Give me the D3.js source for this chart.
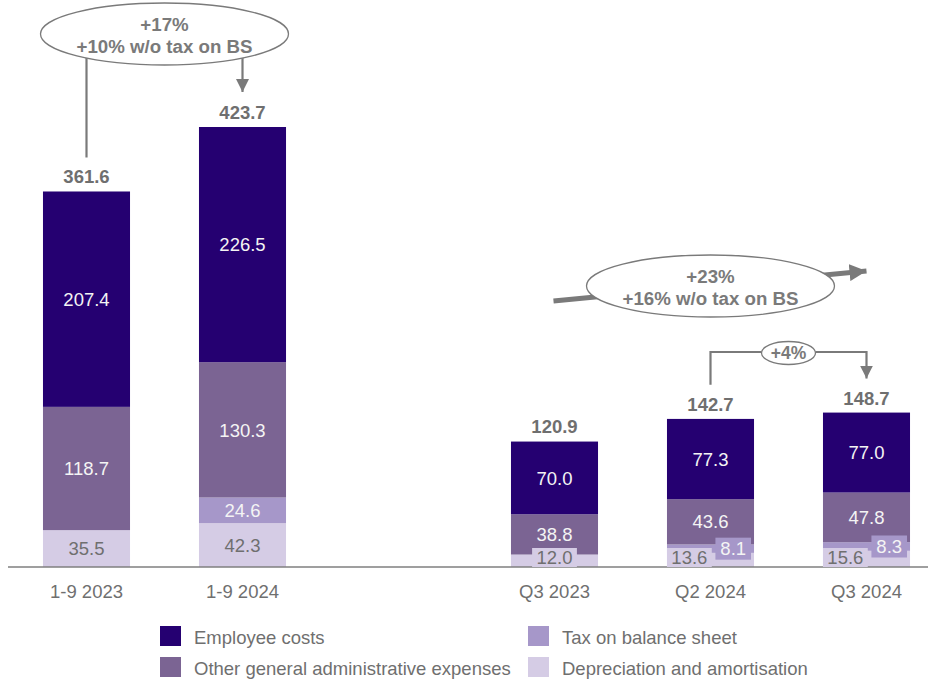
<!DOCTYPE html>
<html>
<head>
<meta charset="utf-8">
<script src="https://cdn.jsdelivr.net/npm/d3@7"></script>
<style>
  html, body { margin: 0; padding: 0; background: #ffffff; }
  svg { display: block; font-family: "Liberation Sans", Arial, sans-serif; }
</style>
</head>
<body>
<svg id="chart" width="932" height="682"></svg>
<script>
// Administrative expenses by period (EUR m)
const periods = ["1-9 2023", "1-9 2024", "Q3 2023", "Q2 2024", "Q3 2024"];
const employeeCosts = [207.4, 226.5, 70.0, 77.3, 77.0];
const otherAdmin = [118.7, 130.3, 38.8, 43.6, 47.8];
const taxOnBalanceSheet = [0, 24.6, 0, 8.1, 8.3];
const depreciation = [35.5, 42.3, 12.0, 13.6, 15.6];
const totals = [361.6, 423.7, 120.9, 142.7, 148.7];

const seriesNames = ["Employee costs", "Other general administrative expenses", "Tax on balance sheet", "Depreciation and amortisation"];
const changeYtd = ["+17%", "+10% w/o tax on BS"];
const changeYoY = ["+23%", "+16% w/o tax on BS"];
const changeQoQ = "+4%";

const colors = {
  emp: "#250071",
  other: "#7b6493",
  tax: "#a697c9",
  dep: "#d5cce5"
};
const grey = "#6f6f6f";
const annGrey = "#7a7a7a";
const fs = 18.5;

const rows = periods.map((p, i) => ({
  period: p,
  dep: depreciation[i],
  tax: taxOnBalanceSheet[i],
  other: otherAdmin[i],
  emp: employeeCosts[i],
  total: totals[i]
}));

const keys = ["dep", "tax", "other", "emp"];
const stacked = d3.stack().keys(keys)(rows);

const svg = d3.select("#chart");

// a spacer slot separates the year-to-date bars from the quarterly bars
const slots = [periods[0], periods[1], "__gap__", periods[2], periods[3], periods[4]];
const x = d3.scaleBand().domain(slots).range([8.5, 944.5]).paddingInner(0.442).paddingOuter(0.221);
const y = d3.scaleLinear().domain([0, 423.7]).range([567, 127]);
const cx = p => x(p) + x.bandwidth() / 2;

// bars
const layer = svg.append("g");
stacked.forEach(s => {
  layer.append("g")
    .attr("fill", colors[s.key])
    .selectAll("rect")
    .data(s.filter(d => d[1] - d[0] > 0))
    .join("rect")
    .attr("x", d => x(d.data.period))
    .attr("width", x.bandwidth())
    .attr("y", d => y(d[1]))
    .attr("height", d => y(d[0]) - y(d[1]));
});

// baseline
svg.append("line")
  .attr("x1", 8).attr("x2", 928)
  .attr("y1", y(0)).attr("y2", y(0))
  .attr("stroke", "#7f7f7f").attr("stroke-width", 1.5);

// category axis
const axis = d3.axisBottom(x).tickSize(0).tickPadding(10).tickValues(periods);
const ax = svg.append("g").attr("transform", `translate(0,${y(0) + 8})`).call(axis);
ax.select(".domain").remove();
ax.selectAll("text")
  .attr("font-size", fs)
  .attr("fill", grey)
  .attr("font-family", "Liberation Sans, Arial, sans-serif");

// segment labels
const fmt = d3.format(".1f");
const lbl = svg.append("g").attr("font-size", fs).attr("text-anchor", "middle");
stacked.forEach(s => {
  s.forEach(d => {
    const v = d[1] - d[0];
    if (v <= 0) return;
    const p = d.data.period;
    const h = y(d[0]) - y(d[1]);
    const txt = fmt(v);
    const tw = txt.length * 9.2 + 8;
    if (h >= 22) {
      lbl.append("text")
        .attr("x", cx(p))
        .attr("y", (y(d[0]) + y(d[1])) / 2)
        .attr("dy", "0.36em")
        .attr("fill", s.key === "dep" ? grey : "#f4f4f4")
        .text(txt);
    } else if (s.key === "dep") {
      // small depreciation value: boxed, left-aligned when a tax slice sits next to it
      const hasTax = d.data.tax > 0;
      const bx = hasTax ? x(p) : cx(p) - tw / 2;
      const mid = y(0) - 9.5;
      lbl.append("rect")
        .attr("x", bx).attr("y", mid - 9.5)
        .attr("width", tw).attr("height", 19)
        .attr("fill", colors.dep);
      lbl.append("text")
        .attr("x", bx + tw / 2).attr("y", mid)
        .attr("dy", "0.36em")
        .attr("fill", grey)
        .text(txt);
    } else {
      // small tax value: boxed, right-aligned
      const bx = x(p) + x.bandwidth() - tw - 3;
      const mid = (y(d[0]) + y(d[1])) / 2;
      lbl.append("rect")
        .attr("x", bx).attr("y", mid - 11)
        .attr("width", tw).attr("height", 22)
        .attr("fill", colors.tax);
      lbl.append("text")
        .attr("x", bx + tw / 2).attr("y", mid)
        .attr("dy", "0.36em")
        .attr("fill", "#f4f4f4")
        .text(txt);
    }
  });
});

// totals
svg.append("g")
  .attr("font-size", fs).attr("font-weight", "bold")
  .attr("text-anchor", "middle").attr("fill", grey)
  .selectAll("text")
  .data(rows)
  .join("text")
  .attr("x", d => cx(d.period))
  .attr("y", d => y(d.total) - 8)
  .text(d => fmt(d.total));

// arrow heads
const defs = svg.append("defs");
defs.append("marker")
  .attr("id", "head").attr("viewBox", "0 0 10 10")
  .attr("refX", 10).attr("refY", 5)
  .attr("markerWidth", 13).attr("markerHeight", 13)
  .attr("markerUnits", "userSpaceOnUse")
  .attr("orient", "auto")
  .append("path").attr("d", "M0,0 L10,5 L0,10 Z").attr("fill", annGrey);
defs.append("marker")
  .attr("id", "headBig").attr("viewBox", "0 0 10 10")
  .attr("refX", 10).attr("refY", 5)
  .attr("markerWidth", 17).attr("markerHeight", 17)
  .attr("markerUnits", "userSpaceOnUse")
  .attr("orient", "auto")
  .append("path").attr("d", "M0,0 L10,5 L0,10 Z").attr("fill", annGrey);

const ann = svg.append("g");

// year-to-date change
const ytdX1 = cx(periods[0]), ytdX2 = cx(periods[1]);
const ytdCx = (ytdX1 + ytdX2) / 2, ytdCy = 34;
ann.append("line")
  .attr("x1", ytdX1).attr("x2", ytdX1)
  .attr("y1", ytdCy + 20).attr("y2", y(totals[0]) - 34)
  .attr("stroke", annGrey).attr("stroke-width", 2.2);
ann.append("line")
  .attr("x1", ytdX2).attr("x2", ytdX2)
  .attr("y1", ytdCy + 20).attr("y2", y(totals[1]) - 35)
  .attr("stroke", annGrey).attr("stroke-width", 2.2)
  .attr("marker-end", "url(#head)");
ann.append("ellipse")
  .attr("cx", ytdCx).attr("cy", ytdCy).attr("rx", 124).attr("ry", 31)
  .attr("fill", "#fff").attr("stroke", annGrey).attr("stroke-width", 1.3);
ann.append("g")
  .attr("font-size", 18.7).attr("font-weight", "bold")
  .attr("text-anchor", "middle").attr("fill", annGrey)
  .selectAll("text").data(changeYtd).join("text")
  .attr("x", ytdCx)
  .attr("y", (d, i) => ytdCy - 10 + i * 22)
  .attr("dy", "0.36em")
  .text(d => d);

// year-over-year quarterly change
const yoyX1 = cx(periods[2]) - 1, yoyX2 = cx(periods[4]);
const yoyCx = (cx(periods[2]) + cx(periods[4])) / 2, yoyCy = 286;
ann.append("line")
  .attr("x1", yoyX1).attr("y1", yoyCy + 15)
  .attr("x2", yoyX2).attr("y2", yoyCy - 15)
  .attr("stroke", annGrey).attr("stroke-width", 5)
  .attr("marker-end", "url(#headBig)");
ann.append("ellipse")
  .attr("cx", yoyCx).attr("cy", yoyCy).attr("rx", 124).attr("ry", 31)
  .attr("fill", "#fff").attr("stroke", annGrey).attr("stroke-width", 1.3);
ann.append("g")
  .attr("font-size", 18.7).attr("font-weight", "bold")
  .attr("text-anchor", "middle").attr("fill", annGrey)
  .selectAll("text").data(changeYoY).join("text")
  .attr("x", yoyCx)
  .attr("y", (d, i) => yoyCy - 10 + i * 22)
  .attr("dy", "0.36em")
  .text(d => d);

// quarter-over-quarter change
const qX1 = cx(periods[3]), qX2 = cx(periods[4]);
const qTop = 352;
ann.append("path")
  .attr("d", `M${qX1},${y(totals[3]) - 34} V${qTop} H${qX2} V${y(totals[4]) - 34}`)
  .attr("fill", "none").attr("stroke", annGrey).attr("stroke-width", 2.2)
  .attr("marker-end", "url(#head)");
const qCx = (qX1 + qX2) / 2;
ann.append("ellipse")
  .attr("cx", qCx).attr("cy", qTop + 1).attr("rx", 27).attr("ry", 11.5)
  .attr("fill", "#fff").attr("stroke", annGrey).attr("stroke-width", 1.3);
ann.append("text")
  .attr("x", qCx).attr("y", qTop + 1).attr("dy", "0.36em")
  .attr("font-size", 17.5).attr("font-weight", "bold")
  .attr("text-anchor", "middle").attr("fill", annGrey)
  .text(changeQoQ);

// legend
const legendKeys = ["emp", "other", "tax", "dep"];
const legend = svg.append("g");
legendKeys.forEach((k, i) => {
  const col = Math.floor(i / 2), row = i % 2;
  const lx = 160 + col * 368, ly = 626 + row * 31;
  legend.append("rect")
    .attr("x", lx).attr("y", ly).attr("width", 21).attr("height", 20)
    .attr("fill", colors[k]);
  legend.append("text")
    .attr("x", lx + 34).attr("y", ly + 11).attr("dy", "0.36em")
    .attr("font-size", fs).attr("fill", grey)
    .text(seriesNames[i]);
});
</script>
</body>
</html>
